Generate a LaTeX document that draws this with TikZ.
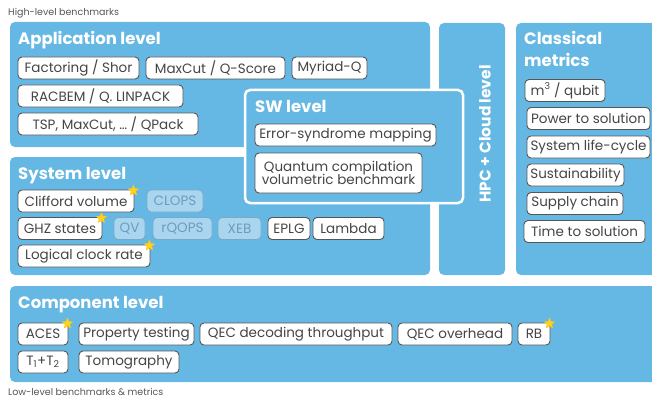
\documentclass[tikz,border=0pt]{standalone}
\usepackage{fontspec}
\setmainfont{Poppins}
\usepackage{tikz}
\usetikzlibrary{shapes.geometric}
\usepackage{xcolor}
\definecolor{levelblue}{HTML}{66B8E4}
\definecolor{chipborder}{HTML}{555555}
\definecolor{chiptext}{HTML}{454545}
\definecolor{fadefill}{HTML}{A9D5EF}
\definecolor{fadeborder}{HTML}{7AA8C6}
\definecolor{fadetext}{HTML}{6E9CBD}
\definecolor{starcol}{HTML}{FFD21C}
\definecolor{notegray}{HTML}{555555}
\tikzstyle{level}=[fill=levelblue,rounded corners=5pt]
\tikzstyle{title}=[text=white,font=\fontsize{16.5}{19}\selectfont\bfseries,anchor=base west,inner sep=0pt]
\tikzstyle{chip}=[draw=chipborder,fill=white,rounded corners=4pt,text=chiptext,
  font=\fontsize{13.5}{15.5}\selectfont,inner sep=0pt,minimum height=22pt,line width=0.9pt]
\tikzstyle{faded}=[chip,draw=fadeborder,fill=fadefill,text=fadetext]
\tikzstyle{note}=[text=notegray,font=\fontsize{9.5}{11}\selectfont,anchor=base west,inner sep=0pt]
\tikzset{badge/.style={star,star points=5,star point ratio=2.2,fill=starcol,
  draw=starcol!80!orange,line width=0.3pt,inner sep=0pt,minimum size=11pt}}

\begin{document}
\begin{tikzpicture}[x=1pt,y=-1pt]
  \useasboundingbox (0,0) rectangle (652,401);

  % LEVELS
  \fill[level] (10,22) rectangle (430,147);
  \fill[level] (10,157) rectangle (430,275);
  \fill[level] (439,23) rectangle (505,275);
  \fill[level] (516,23) rectangle (662,275);
  \fill[level] (10,286) rectangle (662,382);
  \draw[level,draw=white,line width=2.5pt] (245,90) rectangle (463,203);

  % NOTES
  \node[note] (high) at (8,16) {High-level benchmarks};
  \node[note] (low) at (8,395) {Low-level benchmarks \& metrics};

  % TITLES
  \node[title] (apptitle) at (18,45) {Application level};
  \node[title] (systitle) at (18,179) {System level};
  \node[title] (swtitle) at (255,113) {SW level};
  \node[title] (comptitle) at (18,308) {Component level};
  \node[title] (clstitle) at (524,45) {Classical};
  \node[title] (clstitle2) at (524,67) {metrics};
  \node[title,font=\fontsize{15.5}{18}\selectfont\bfseries,anchor=center,rotate=90]
    (hpctitle) at (485,134) {HPC + Cloud level};

  % APPLICATION
  \node[chip,minimum width=121pt] (shor) at (78.5,68) {Factoring / Shor};
  \node[chip,minimum width=139pt] (qscore) at (215.5,68) {MaxCut / Q-Score};
  \node[chip,minimum width=75pt] (myriad) at (329.5,68) {Myriad-Q};
  \node[chip,minimum width=165pt] (racbem) at (100.5,96) {RACBEM / Q. LINPACK};
  \node[chip,minimum width=180pt] (qpack) at (108,124) {TSP, MaxCut, \dots{} / QPack};

  % SYSTEM
  \node[chip,minimum width=116pt] (clifford) at (76,201) {Clifford volume};
  \node[faded,minimum width=56pt] (clops) at (175,201) {CLOPS};
  \node[chip,minimum width=84pt] (ghz) at (60,228.5) {GHZ states};
  \node[faded,minimum width=31pt] (qv) at (129.5,228.5) {QV};
  \node[faded,minimum width=59pt] (rqops) at (182.5,228.5) {rQOPS};
  \node[faded,minimum width=43pt] (xeb) at (239.5,228.5) {XEB};
  \node[chip,minimum width=42pt] (eplg) at (289,228.5) {EPLG};
  \node[chip,minimum width=71pt] (lambda) at (348.5,228.5) {Lambda};
  \node[chip,minimum width=132pt] (clock) at (84,256) {Logical clock rate};

  % SW
  \node[chip,minimum width=181pt] (syndrome) at (345.5,135) {Error-syndrome mapping};
  \node[chip,minimum width=167pt,minimum height=40pt,align=center] (compile) at (338.5,173)
    {Quantum compilation\\[-2pt]volumetric benchmark};

  % CLASSICAL
  \node[chip,minimum width=80pt] (volume) at (565,90.5) {m\textsuperscript{3} / qubit};
  \node[chip,minimum width=123pt] (power) at (588.5,118.5) {Power to solution};
  \node[chip,minimum width=123pt] (lifecycle) at (588.5,147) {System life-cycle};
  \node[chip,minimum width=97pt] (sustain) at (575.5,175) {Sustainability};
  \node[chip,minimum width=96pt] (supply) at (575,203.5) {Supply chain};
  \node[chip,minimum width=121pt] (tts) at (584.5,231.5) {Time to solution};

  % COMPONENT
  \node[chip,minimum width=50pt] (aces) at (43,334) {ACES};
  \node[chip,minimum width=115pt] (property) at (136.5,334) {Property testing};
  \node[chip,minimum width=192pt] (decoding) at (296,334) {QEC decoding throughput};
  \node[chip,minimum width=114pt] (overhead) at (455,334) {QEC overhead};
  \node[chip,minimum width=32pt] (rb) at (534,334) {RB};
  \node[chip,minimum width=50pt] (tt) at (43,362) {T\textsubscript{1}+T\textsubscript{2}};
  \node[chip,minimum width=100pt] (tomo) at (129,362) {Tomography};

  % STARS
  \foreach \c in {clifford,ghz,clock,aces,rb}
    \node[badge] (star-\c) at ([xshift=-1pt,yshift=-1pt]\c.north east) {};
\end{tikzpicture}
\end{document}
